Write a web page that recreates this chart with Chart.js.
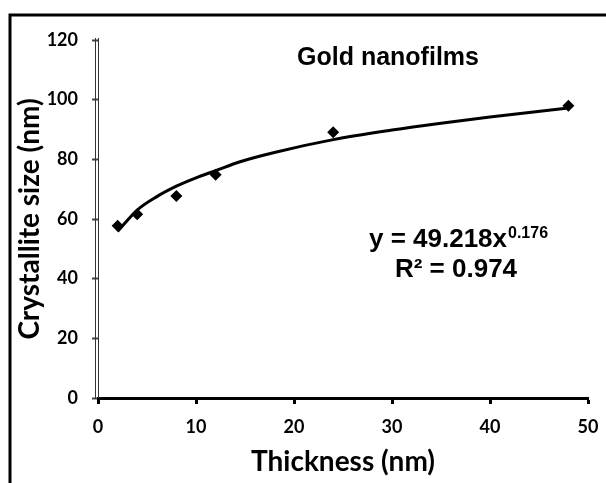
<!DOCTYPE html>
<html>
<head>
<meta charset="utf-8">
<script src="https://cdn.jsdelivr.net/npm/chart.js@4.4.1/dist/chart.umd.min.js"></script>
<style>
  html, body { margin: 0; padding: 0; background: #fff; }
  #wrap { width: 606px; height: 483px; }
</style>
</head>
<body>
<div id="wrap"><canvas id="size-graph"></canvas></div>
<script>
// measured points (thickness in nm, crystallite size in nm)
var thickness = [2, 4, 8, 12, 24, 48];
var crystalliteSize = [57.7, 61.6, 67.7, 74.8, 89.1, 98.0];

// trend line
var trendX = [2, 4, 6, 8, 10, 12, 14.5, 18, 24, 30, 35, 40, 48];
var trendY = [55.8, 63, 67.5, 71, 73.8, 76.2, 79.2, 82.3, 86.6, 89.8, 92.1, 94.2, 97.2];

var xTicks = [0, 10, 20, 30, 40, 50];
var yTicks = [0, 20, 40, 60, 80, 100, 120];

var chartTitle = 'Gold nanofilms';
var fitText = 'y = 49.218x';
var fitPower = '0.176';
var r2Text = 'R² = 0.974';

function toPoints(xs, ys) {
	return xs.map(function(x, i) { return {x: x, y: ys[i]}; });
}

var labelFont = '"Lato", "DejaVu Sans", sans-serif';
var arialFont = '"Liberation Sans", Arial, sans-serif';

// frame, double y axis line and the text boxes
var extras = {
	id: 'extras',
	afterDraw: function(chart) {
		var ctx = chart.ctx;
		var a = chart.chartArea;
		ctx.save();
		ctx.strokeStyle = '#000';
		ctx.lineWidth = 3;
		ctx.beginPath();
		ctx.moveTo(10, 483);
		ctx.lineTo(10, 15);
		ctx.lineTo(606, 15);
		ctx.stroke();

		ctx.lineWidth = 1;
		ctx.strokeStyle = '#333';
		ctx.beginPath();
		ctx.moveTo(a.left - 2.5, a.top - 2);
		ctx.lineTo(a.left - 2.5, a.bottom);
		ctx.moveTo(a.left + 0.5, a.top - 2);
		ctx.lineTo(a.left + 0.5, a.bottom);
		ctx.stroke();

		ctx.fillStyle = '#000';
		ctx.textBaseline = 'alphabetic';
		ctx.textAlign = 'center';
		ctx.font = 'bold 25px ' + arialFont;
		ctx.fillText(chartTitle, 388, 65);

		ctx.font = 'bold 26px ' + arialFont;
		var w1 = ctx.measureText(fitText).width;
		ctx.font = 'bold 16px ' + arialFont;
		var w2 = ctx.measureText(fitPower).width;
		var sx = 458 - (w1 + w2) / 2;
		ctx.textAlign = 'left';
		ctx.font = 'bold 26px ' + arialFont;
		ctx.fillText(fitText, sx, 247);
		ctx.font = 'bold 16px ' + arialFont;
		ctx.fillText(fitPower, sx + w1 + 1, 238);

		ctx.textAlign = 'center';
		ctx.font = 'bold 26px ' + arialFont;
		ctx.fillText(r2Text, 456, 277);
		ctx.restore();
	}
};

var ctx = document.getElementById('size-graph');
var sizeChart = new Chart(ctx, {
	type: 'scatter',
	data: {
		datasets: [{
			label: 'Trend',
			data: toPoints(trendX, trendY),
			showLine: true,
			borderColor: '#000',
			borderWidth: 3,
			pointRadius: 0,
			cubicInterpolationMode: 'monotone',
			fill: false
		}, {
			label: 'Crystallite size',
			data: toPoints(thickness, crystalliteSize),
			pointStyle: 'rectRot',
			pointRadius: 6,
			backgroundColor: '#000',
			borderColor: '#000',
			borderWidth: 0
		}]
	},
	options: {
		responsive: true,
		maintainAspectRatio: false,
		animation: false,
		devicePixelRatio: 1,
		layout: {padding: {left: 0, top: 40, right: 18, bottom: 0}},
		plugins: {
			legend: {display: false},
			tooltip: {enabled: false}
		},
		scales: {
			x: {
				type: 'linear',
				min: 0,
				max: 50,
				afterBuildTicks: function(s) { s.ticks = xTicks.map(function(v) { return {value: v}; }); },
				afterFit: function(s) {
					s.height = 483 - 398;
					s.paddingLeft = 0;
					s.paddingRight = 0;
				},
				border: {color: '#000', width: 3},
				grid: {drawOnChartArea: false, tickLength: 6, tickWidth: 3, tickColor: '#000'},
				ticks: {color: '#000', padding: 12, font: {family: labelFont, size: 18, weight: 'bold'}},
				title: {display: true, text: 'Thickness (nm)', color: '#000', padding: {top: 4, bottom: 4},
					font: {family: labelFont, size: 28, weight: 'bold'}}
			},
			y: {
				type: 'linear',
				min: 0,
				max: 120,
				afterBuildTicks: function(s) { s.ticks = yTicks.map(function(v) { return {value: v}; }); },
				afterFit: function(s) { s.width = 98; },
				border: {display: false},
				grid: {drawOnChartArea: false, tickLength: 6, tickWidth: 2, tickColor: '#444'},
				ticks: {color: '#000', padding: 14, font: {family: labelFont, size: 18, weight: 'bold'}},
				title: {display: true, text: 'Crystallite size (nm)', color: '#000', padding: {top: 13, bottom: 0},
					font: {family: labelFont, size: 28, weight: 'bold'}}
			}
		}
	},
	plugins: [extras]
});
</script>
</body>
</html>
